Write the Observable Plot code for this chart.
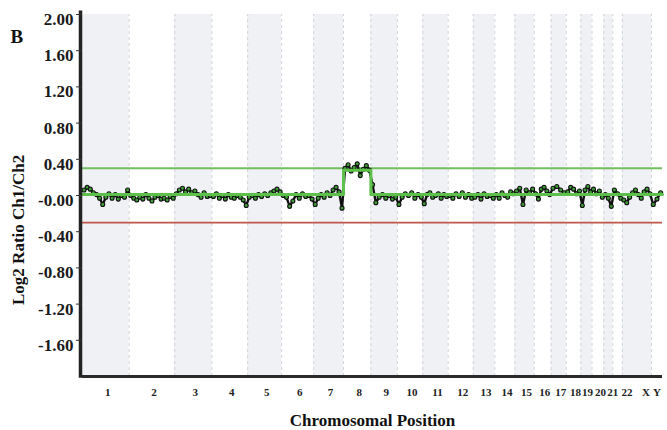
<!DOCTYPE html>
<html><head><meta charset="utf-8">
<script src="https://cdn.jsdelivr.net/npm/d3@7"></script>
<script src="https://cdn.jsdelivr.net/npm/@observablehq/plot@0.6"></script>
<style>body{margin:0;background:#fff}</style>
</head><body><div id="chart"></div>
<script>
const chromosomes = ["1","2","3","4","5","6","7","8","9","10","11","12","13","14","15","16","17","18","19","20","21","22","X","Y"];
const chromSizesMb = [249,243,198,191,181,171,159,146,141,136,135,134,115,107,103,90,81,78,59,63,48,51,155,59];

// Log2 ratio probe values per chromosome (evenly placed along each chromosome)
const probeValues = [
  [0.06,0.09,0.07,0.03,0.01,-0.03,-0.10,-0.02,0.02,-0.03,0.01,-0.04,0.00,-0.02,0.06],
  [0.00,-0.03,-0.05,-0.02,-0.04,0.01,-0.03,-0.06,-0.02,0.00,-0.04,-0.03,-0.05,-0.01,-0.03],
  [0.02,0.06,0.08,0.04,0.07,0.03,0.05,0.01,-0.02,0.03,-0.01,0.00],
  [-0.01,0.02,-0.03,0.00,-0.04,0.01,-0.02,-0.03,0.00,-0.02,-0.05,-0.11],
  [-0.02,0.00,-0.03,0.01,-0.01,0.02,0.00,0.03,0.05,0.07,0.04],
  [0.00,-0.02,-0.12,-0.06,0.01,-0.03,0.02,-0.01,0.00,-0.04],
  [-0.10,-0.03,0.01,-0.02,0.03,0.00,0.06,0.09,0.04,-0.14],
  [0.30,0.34,0.27,0.31,0.35,0.22,0.29,0.33,0.28],
  [0.12,-0.08,-0.02,0.01,-0.03,0.00,-0.04,-0.02],
  [-0.10,-0.02,0.02,0.00,0.03,-0.03,0.01,-0.02],
  [-0.09,0.01,0.03,-0.02,0.00,0.02,-0.03,0.01,-0.01],
  [0.00,-0.03,0.02,-0.01,0.03,-0.02,0.01,-0.03],
  [-0.02,0.01,-0.04,0.02,-0.01,0.00,-0.03],
  [0.01,-0.03,0.03,0.00,-0.02,0.04,0.02],
  [0.05,0.08,-0.10,0.06,0.03,0.07],
  [0.02,-0.04,0.07,0.09,0.05,0.01],
  [0.08,0.10,0.06,0.03],
  [0.04,0.09,0.07,0.02,0.05],
  [-0.11,0.06,0.10,0.04],
  [0.07,0.02,0.05,-0.02],
  [0.01,-0.03,-0.12],
  [0.06,0.02,-0.03],
  [-0.05,-0.08,-0.02,0.03,0.06,0.01,-0.03,0.04,0.07,0.02],
  [-0.10,-0.04,0.03]
];

// Segmentation result (green line)
const segFromChrom = ["1","8","9"];
const segToChrom   = ["7","8","Y"];
const segValues    = [0.01,0.28,0.01];

// Threshold lines
const gainThreshold = 0.3;
const lossThreshold = -0.3;

// Y tick values
const yTicks = [2, 1.6, 1.2, 0.8, 0.4, 0, -0.4, -0.8, -1.2, -1.6];

const offsets = [0, ...d3.cumsum(chromSizesMb)];
const total = offsets[offsets.length - 1];
const chromTable = chromosomes.map((c, i) => ({c, i, x1: offsets[i], x2: offsets[i + 1], mid: (offsets[i] + offsets[i + 1]) / 2}));
const probes = chromTable.flatMap(ch => probeValues[ch.i].map((v, j, arr) => ({x: ch.x1 + (j + 0.5) / arr.length * (ch.x2 - ch.x1), v})));
const segPoints = segValues.flatMap((v, k) => {
  const a = chromosomes.indexOf(segFromChrom[k]);
  const b = chromosomes.indexOf(segToChrom[k]);
  return [{x: offsets[a], v}, {x: offsets[b + 1], v}];
});

const font = "'Liberation Serif', 'DejaVu Serif', serif";
const labelStyle = {text: "c", x: "mid", frameAnchor: "bottom", lineAnchor: "middle", dy: 16,
  fontSize: 11, fontWeight: "bold", fill: "#222", ariaLabel: "chrom-labels"};
const nudged = ["19", "20", "21", "22", "X", "Y"];
const label = (c, dx) => Plot.text(chromTable.filter(d => d.c === c), {...labelStyle, dx});
const chart = Plot.plot({
  width: 667, height: 430,
  marginLeft: 82, marginRight: 5, marginTop: 14, marginBottom: 54,
  x: {domain: [0, total], axis: null},
  y: {domain: [-2, 2], axis: null},
  style: {fontFamily: font, background: "white", color: "#111"},
  marks: [
    Plot.rect(chromTable.filter(d => d.i % 2 === 0), {x1: "x1", x2: "x2", y1: -2, y2: 2, fill: "#eff1f5"}),
    Plot.ruleX(offsets.slice(1, -1), {y1: -2, y2: 2, stroke: "#d0d3d8", strokeDasharray: "3,3"}),
    Plot.ruleY([gainThreshold], {x1: 0, x2: total, stroke: "#72bf60", strokeWidth: 2}),
    Plot.ruleY([lossThreshold], {x1: 0, x2: total, stroke: "#c0574a", strokeWidth: 1.6}),
    Plot.line(probes, {x: "x", y: "v", stroke: "#111", strokeWidth: 2.4}),
    Plot.dot(probes, {x: "x", y: "v", r: 2, fill: "#3e9e36", stroke: "#111", strokeWidth: 1.1}),
    Plot.line(segPoints, {x: "x", y: "v", stroke: "#5cc04a", strokeWidth: 3, curve: "linear"}),
    // axes
    Plot.ruleX([0], {y1: -2, y2: 2.02, stroke: "#222", strokeWidth: 3.5, dx: -2, strokeLinecap: "square"}),
    Plot.ruleY([-2], {x1: 0, x2: total, stroke: "#2a2a2a", strokeWidth: 3}),
    Plot.axisY(yTicks, {anchor: "left", tickSize: 6, tickFormat: () => "", label: null, stroke: "#333"}),
    Plot.text(yTicks, {y: d => d, frameAnchor: "left", dx: -9, dy: 5, textAnchor: "end", lineAnchor: "middle",
      text: d => d === 0 ? "-0.00" : d.toFixed(2), fontSize: 17, fontWeight: "bold", fill: "#1a1a1a"}),
    Plot.text(chromTable.filter(d => !nudged.includes(d.c)), {...labelStyle, dx: 2}),
    label("19", 1), label("20", 2.5), label("21", 4.5), label("22", 9.5), label("X", 9), label("Y", 0),
    Plot.text(["Chromosomal Position"], {frameAnchor: "bottom", lineAnchor: "middle", dy: 44, fontSize: 17, fontWeight: "bold", fill: "#111"}),
    Plot.text(["Log2 Ratio Ch1/Ch2"], {y: [-0.38], frameAnchor: "left", textAnchor: "middle", lineAnchor: "middle", dx: -64, rotate: -90, fontSize: 17, fontWeight: "bold", fill: "#111"}),
    Plot.text(["B"], {frameAnchor: "top-left", lineAnchor: "middle", dx: -72, dy: 22, textAnchor: "start", fontSize: 19, fontWeight: "bold", fill: "#111"})
  ]
});
d3.select(chart).selectAll('g[aria-label="chrom-labels"] text').style("letter-spacing", "-1px");
document.getElementById("chart").appendChild(chart);
</script>
</body></html>
